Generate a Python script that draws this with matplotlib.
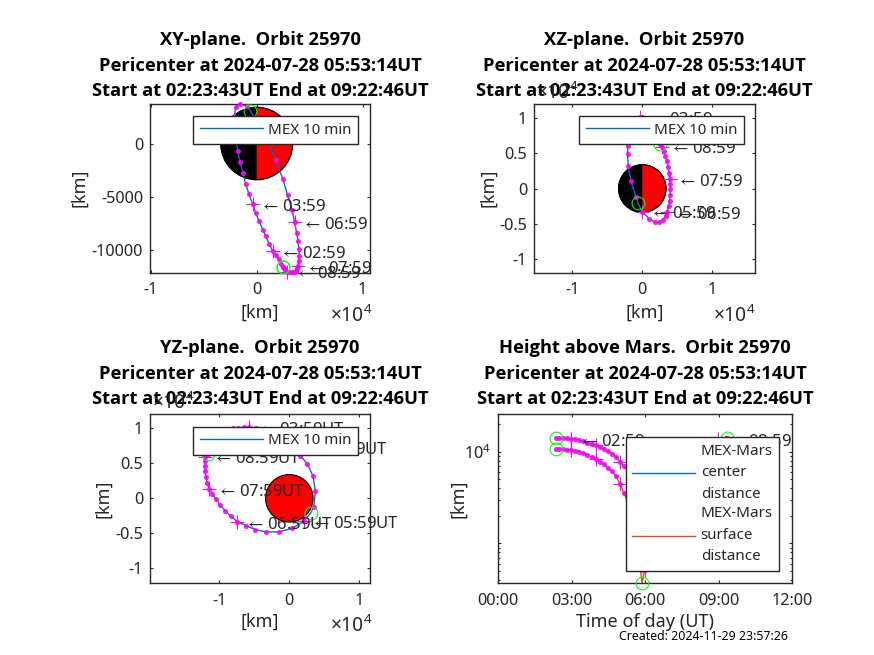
import matplotlib
matplotlib.use('Agg')
import matplotlib.pyplot as plt
from matplotlib.patches import Circle, Wedge
from matplotlib.ticker import FixedLocator, FixedFormatter, NullFormatter, LogLocator

plt.rcParams['font.family'] = ['Noto Sans', 'DejaVu Sans']
plt.rcParams['mathtext.default'] = 'regular'
plt.rcParams['mathtext.fontset'] = 'stix'

orbit = 25970
peri = '2024-07-28 05:53:14'
start = '02:23:43'
end = '09:22:46'
times = ['02:23','02:29','02:39','02:49','02:59','03:09','03:19','03:29','03:39','03:49',
         '03:59','04:09','04:19','04:29','04:39','04:49','04:59','05:09','05:19','05:29',
         '05:39','05:49','05:53','05:59','06:09','06:19','06:29','06:39','06:49','06:59',
         '07:09','07:19','07:29','07:39','07:49','07:59','08:09','08:19','08:29','08:39',
         '08:49','08:59','09:09','09:19','09:22']
x_km = [2510,2320,2100,1850,1500,1160,850,570,220,-90,
        -380,-720,-1040,-1290,-1570,-1790,-2000,-2080,-2100,-2000,
        -1600,-940,-600,0,1000,1790,2450,2920,3330,3580,
        3770,3900,3980,4000,3960,3900,3800,3700,3540,3300,
        3050,2880,2700,2560,2510]
y_km = [-11565,-11250,-10870,-10470,-10060,-9375,-8690,-8060,-7280,-6500,
        -5690,-4750,-3810,-2780,-1720,-690,480,1600,2600,3400,
        3720,3500,3060,2050,420,-1530,-3280,-4840,-6190,-7400,
        -8375,-9150,-9900,-10500,-11000,-11460,-11700,-11930,-12050,-12060,
        -12040,-12000,-11850,-11700,-11600]
z_km = [6370,6900,7500,8100,8600,9300,9750,10000,10080,10120,
        10130,10100,9800,9400,8900,8200,7300,6100,4860,3160,
        1040,-1180,-2120,-3300,-4300,-4800,-4800,-4480,-3900,-3350,
        -2550,-1750,-940,-100,660,1320,2220,3070,3870,4670,
        5330,5950,6600,7200,7500]
center_km = [14000,14000,14000,13950,13800,13600,13300,13000,12600,12200,
             11800,11200,10700,10100,9500,8800,7800,6900,6100,5350,
             4600,3900,3760,3900,4500,5200,6310,7200,8000,8880,
             9540,10100,10720,11220,11700,12170,12500,12850,13160,13370,
             13490,13680,13850,13950,14000]
surface_km = [10610,10610,10610,10560,10410,10210,9910,9610,9210,8810,
              8410,7810,7310,6710,6110,5410,4410,3510,2710,1960,
              1210,510,369,510,1110,1810,2920,3810,4610,5490,
              6150,6710,7330,7830,8310,8780,9110,9460,9770,9980,
              10100,10290,10460,10560,10610]
mars_radius = 3390

hours = [int(t[:2]) + int(t[3:]) / 60 for t in times]
cross_idx = [i for i, t in enumerate(times) if t.endswith(':59')]
event_idx = [0, times.index('05:53'), len(times) - 1]
dot_idx = [i for i in range(len(times)) if i != event_idx[1]]

W, H = 874, 655
DARK = '#262626'
BLUE = '#0072BD'
ORANGE = '#D95319'
MAG = '#FF00FF'
GREEN = '#00FF00'
FS = 12.0
LEG_FS = 10.9
ARROW = r'$\leftarrow\,$'

fig = plt.figure(figsize=(W / 100, H / 100), dpi=100, facecolor='white')


def make_ax(l, t, r, b):
    ax = fig.add_axes([l / W, 1 - b / H, (r - l) / W, (b - t) / H])
    ax.tick_params(which='both', direction='in', top=True, right=True, labelsize=11.7,
                   colors=DARK, length=2.5, width=0.8, pad=5)
    ax.tick_params(axis='x', pad=7)
    for s in ax.spines.values():
        s.set_linewidth(1.0)
        s.set_color(DARK)
    return ax


def titles(ax, head, pad):
    ax.set_title(f'{head}  Orbit {orbit}\nPericenter at {peri}UT\nStart at {start}UT End at {end}UT',
                 fontsize=13.2, fontweight='bold', family=['Open Sans', 'DejaVu Sans'], color='black',
                 linespacing=1.53, pad=pad)


def labels(ax, l, r, t, b, xpx, ypx, xlabel='[km]'):
    ax.set_xlabel(xlabel, fontsize=13, color=DARK, va='center')
    ax.set_ylabel('[km]', fontsize=13, color=DARK, va='center')
    ax.xaxis.set_label_coords(0.5, (b - ypx) / (b - t))
    ax.yaxis.set_label_coords((xpx - l) / (r - l), 0.5)


def orbit_panel(ax, xs, ys, suffix):
    line, = ax.plot(xs, ys, color=BLUE, lw=1.0, zorder=2)
    ax.plot([xs[i] for i in dot_idx], [ys[i] for i in dot_idx], ls='none', marker='o', ms=3.7,
            mfc=MAG, mec='none', alpha=0.9, zorder=3, clip_on=False)
    ax.plot([xs[i] for i in cross_idx], [ys[i] for i in cross_idx], ls='none', marker='+', ms=10,
            mew=0.8, color=MAG, zorder=3, clip_on=False)
    ax.plot([xs[i] for i in event_idx], [ys[i] for i in event_idx], ls='none', marker='o', ms=9.2,
            mfc='none', mec=GREEN, mew=0.8, zorder=3, clip_on=False)
    for i in cross_idx:
        ax.annotate(ARROW + times[i] + suffix, (xs[i], ys[i]), xytext=(5.5, -2),
                    textcoords='offset points', va='center', ha='left',
                    fontsize=FS, color=DARK, zorder=4)
    return line


def legend_box(ax, cx, cy, handles, lbls):
    leg = ax.legend(handles, lbls, loc='center', bbox_to_anchor=(cx / W, 1 - cy / H),
                    bbox_transform=fig.transFigure, fontsize=LEG_FS, fancybox=False, framealpha=1,
                    edgecolor=DARK, handlelength=4.17, handletextpad=0.35, borderpad=0.4,
                    labelspacing=0.33, borderaxespad=0)
    leg.get_frame().set_linewidth(1.0)
    leg.set_zorder(6)
    for t in leg.get_texts():
        t.set_color(DARK)
        t.set_linespacing(1.59)
    return leg


# XY panel
L, T, R, B = 150, 103.5, 370, 272.5
ax1 = make_ax(L, T, R, B)
ax1.add_patch(Circle((0, 0), mars_radius, fc='black', ec='black', lw=0.8, zorder=1))
ax1.add_patch(Wedge((0, 0), mars_radius, -90, 90, fc='red', ec='none', zorder=1.1))
ax1.add_patch(Circle((0, 0), mars_radius, fc='none', ec='black', lw=0.8, zorder=1.2))
h1 = orbit_panel(ax1, x_km, y_km, '')
ax1.set_xlim(-10070, 10690)
ax1.set_ylim(-12090, 3750)
ax1.xaxis.set_major_locator(FixedLocator([-10000, 0, 10000]))
ax1.xaxis.set_major_formatter(FixedFormatter(['-1', '0', '1']))
ax1.yaxis.set_major_locator(FixedLocator([-10000, -5000, 0]))
ax1.yaxis.set_major_formatter(FixedFormatter(['-10000', '-5000', '0']))
titles(ax1, 'XY-plane.', 5.2)
labels(ax1, L, R, T, B, 79, 313)
legend_box(ax1, 275.5, 130, [h1], ['MEX 10 min'])

# XZ panel
L, T, R, B = 534, 103.5, 755, 272.5
ax2 = make_ax(L, T, R, B)
ax2.add_patch(Circle((0, 0), mars_radius, fc='black', ec='black', lw=0.8, zorder=1))
ax2.add_patch(Wedge((0, 0), mars_radius, -90, 90, fc='red', ec='none', zorder=1.1))
ax2.add_patch(Circle((0, 0), mars_radius, fc='none', ec='black', lw=0.8, zorder=1.2))
h2 = orbit_panel(ax2, x_km, z_km, '')
ax2.set_xlim(-15470, 16100)
ax2.set_ylim(-11950, 12100)
ax2.xaxis.set_major_locator(FixedLocator([-10000, 0, 10000]))
ax2.xaxis.set_major_formatter(FixedFormatter(['-1', '0', '1']))
ax2.yaxis.set_major_locator(FixedLocator([-10000, -5000, 0, 5000, 10000]))
ax2.yaxis.set_major_formatter(FixedFormatter(['-1', '-0.5', '0', '0.5', '1']))
titles(ax2, 'XZ-plane.', 5.2)
labels(ax2, L, R, T, B, 488, 313)
legend_box(ax2, 661.5, 130, [h2], ['MEX 10 min'])

# YZ panel
L, T, R, B = 150, 414, 370, 583
ax3 = make_ax(L, T, R, B)
ax3.add_patch(Circle((0, 0), mars_radius, fc='red', ec='black', lw=0.8, zorder=1))
h3 = orbit_panel(ax3, y_km, z_km, 'UT')
ax3.set_xlim(-19900, 11530)
ax3.set_ylim(-12100, 12040)
ax3.xaxis.set_major_locator(FixedLocator([-10000, 0, 10000]))
ax3.xaxis.set_major_formatter(FixedFormatter(['-1', '0', '1']))
ax3.yaxis.set_major_locator(FixedLocator([-10000, -5000, 0, 5000, 10000]))
ax3.yaxis.set_major_formatter(FixedFormatter(['-1', '-0.5', '0', '0.5', '1']))
titles(ax3, 'YZ-plane.', 7)
labels(ax3, L, R, T, B, 103, 622)
legend_box(ax3, 275.5, 441, [h3], ['MEX 10 min'])

# Height panel
L, T, R, B = 498, 414, 792, 583
ax4 = make_ax(L, T, R, B)
ax4.set_yscale('log')
l1, = ax4.plot(hours, center_km, color=BLUE, lw=1.0, zorder=2)
l2, = ax4.plot(hours, surface_km, color=ORANGE, lw=1.0, zorder=2)
for series in (center_km, surface_km):
    ax4.plot([hours[i] for i in dot_idx], [series[i] for i in dot_idx], ls='none', marker='o', ms=3.7,
             mfc=MAG, mec='none', alpha=0.9, zorder=3, clip_on=False)
    ax4.plot([hours[i] for i in cross_idx], [series[i] for i in cross_idx], ls='none', marker='+', ms=10,
             mew=0.8, color=MAG, zorder=3, clip_on=False)
    ax4.plot([hours[i] for i in event_idx], [series[i] for i in event_idx], ls='none', marker='o', ms=9.2,
             mfc='none', mec=GREEN, mew=0.8, zorder=3, clip_on=False)
for t in ('02:59', '08:59'):
    i = times.index(t)
    ax4.annotate(ARROW + t, (hours[i], center_km[i]), xytext=(5.5, -2), textcoords='offset points',
                 va='center', ha='left', fontsize=FS, color=DARK, zorder=4)
ax4.set_xlim(0, 12)
ax4.set_ylim(369, 25800)
ax4.xaxis.set_major_locator(FixedLocator([0, 3, 6, 9, 12]))
ax4.xaxis.set_major_formatter(FixedFormatter(['00:00', '03:00', '06:00', '09:00', '12:00']))
ax4.yaxis.set_major_locator(FixedLocator([1000, 10000]))
ax4.yaxis.set_major_formatter(FixedFormatter(['', '$10^{4}$']))
ax4.yaxis.set_minor_locator(LogLocator(base=10, subs=range(2, 10), numticks=12))
ax4.yaxis.set_minor_formatter(NullFormatter())
ax4.tick_params(which='minor', length=1.6)
titles(ax4, 'Height above Mars.', 7)
labels(ax4, L, R, T, B, 458, 622, 'Time of day (UT)')
legend_box(ax4, 702.5, 504, [l1, l2], ['MEX-Mars\ncenter\ndistance', 'MEX-Mars\nsurface\ndistance'])

# axis exponents
for px, py, ha in [(372, 316, 'right'), (755, 316, 'right'), (372, 626, 'right'),
                   (536, 93, 'left'), (152, 403, 'left')]:
    fig.text(px / W, 1 - py / H, '\u00d710$^{4}$', fontsize=13.8, color=DARK, ha=ha, va='center')

fig.text(619 / W, 1 - 636 / H, 'Created: 2024-11-29 23:57:26', fontsize=8.9, color='black',
         ha='left', va='center')

fig.savefig('out.png', dpi=100)
